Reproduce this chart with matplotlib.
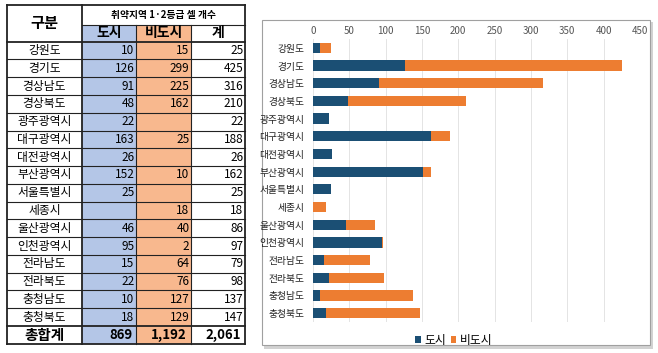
import matplotlib
matplotlib.use("Agg")
import matplotlib.pyplot as plt
from matplotlib import patches

plt.rcParams['font.family'] = ['Noto Sans CJK KR', 'DejaVu Sans']

regions = ['강원도', '경기도', '경상남도', '경상북도', '광주광역시', '대구광역시',
           '대전광역시', '부산광역시', '서울특별시', '세종시', '울산광역시',
           '인천광역시', '전라남도', '전라북도', '충청남도', '충청북도']
city = [10, 126, 91, 48, 22, 163, 26, 152, 25, None, 46, 95, 15, 22, 10, 18]
noncity = [15, 299, 225, 162, None, 25, None, 10, None, 18, 40, 2, 64, 76, 127, 129]
xticks = [0, 50, 100, 150, 200, 250, 300, 350, 400, 450]

city_v = [v or 0 for v in city]
non_v = [v or 0 for v in noncity]
totals = [a + b for a, b in zip(city_v, non_v)]

W, H = 658, 353
fig = plt.figure(figsize=(W / 100, H / 100), dpi=100)

# ---- table (drawn in pixel coordinates) ----
tb = fig.add_axes([0, 0, 1, 1])
tb.set_xlim(0, W)
tb.set_ylim(H, 0)
tb.axis('off')

cols = [7, 82, 136, 191, 245]
top, h1, h2 = 5, 25, 41.7
row_h = 17.77
n = len(regions)
data_bot = h2 + n * row_h
bot = 344
blue_c = '#b4c6e7'
orng_c = '#f8b88e'
lc = '#222222'

tb.add_patch(patches.Rectangle((cols[1], h1), cols[2] - cols[1], bot - h1, fc=blue_c, ec='none'))
tb.add_patch(patches.Rectangle((cols[2], h1), cols[3] - cols[2], bot - h1, fc=orng_c, ec='none'))

# grid lines
tb.plot([cols[1], cols[4]], [h1, h1], color=lc, lw=0.8)
for i in range(n + 1):
    y = h2 + i * row_h
    tb.plot([cols[0], cols[4]], [y, y], color=lc, lw=0.8 if 0 < i < n else 1.3)
for j, x in enumerate(cols):
    y0 = top if j in (0, 1, 4) else h1
    tb.plot([x, x], [y0, bot], color=lc, lw=1.3 if j in (0, 1, 4) else 0.8)
tb.plot([cols[0], cols[4]], [top, top], color=lc, lw=1.3)
tb.plot([cols[0], cols[4]], [bot, bot], color=lc, lw=1.3)

tb.text((cols[0] + cols[1]) / 2, (top + h2) / 2, '구분', ha='center', va='center',
        fontsize=11, fontweight='bold')
tb.text((cols[1] + cols[4]) / 2, (top + h1) / 2, '취약지역 1·2등급 셀 개수', ha='center',
        va='center', fontsize=7, fontweight='bold')
for j, lab in enumerate(['도시', '비도시', '계']):
    tb.text((cols[j + 1] + cols[j + 2]) / 2, (h1 + h2) / 2, lab, ha='center',
            va='center', fontsize=10, fontweight='bold')

for i, r in enumerate(regions):
    yc = h2 + (i + 0.5) * row_h
    tb.text((cols[0] + cols[1]) / 2, yc, r, ha='center', va='center', fontsize=8.5)
    for j, v in enumerate([city[i], noncity[i], totals[i]]):
        if v:
            tb.text(cols[j + 2] - 1.5, yc, str(v), ha='right', va='center', fontsize=8.5)

yt = (data_bot + bot) / 2
tb.text((cols[0] + cols[1]) / 2, yt, '총합계', ha='center', va='center',
        fontsize=10.5, fontweight='bold')
for j, v in enumerate([sum(city_v), sum(non_v), sum(totals)]):
    tb.text(cols[j + 2] - 4, yt, f'{v:,}', ha='right', va='center',
            fontsize=9.5, fontweight='bold')

# ---- chart panel with shadow ----
tb.add_patch(patches.Rectangle((264, 22), 389, 327, fc='#d2d2d2', ec='none', zorder=0))
tb.add_patch(patches.Rectangle((262, 20), 388, 325, fc='white', ec='#a0a0a0', lw=0.8, zorder=1))

ax = fig.add_axes([313 / W, 1 - 322 / H, (640 - 313) / W, (322 - 39) / H])
ax.patch.set_alpha(0)
ypos = list(range(n))
ax.barh(ypos, city_v, height=0.58, color='#1b4f74', label='도시', zorder=3)
ax.barh(ypos, non_v, left=city_v, height=0.58, color='#ed7d31', label='비도시', zorder=3)
ax.set_ylim(n - 0.5, -0.5)
ax.set_xlim(0, 450)
ax.set_yticks(ypos)
ax.set_yticklabels(regions, fontsize=7, color='#222222')
ax.set_xticks(xticks)
ax.xaxis.tick_top()
ax.tick_params(axis='x', labelsize=7, labelcolor='#555555', length=0, pad=2)
ax.tick_params(axis='y', length=0, pad=6)
ax.grid(axis='x', color='#e4e4e4', lw=0.7, zorder=0)
for s in ax.spines.values():
    s.set_visible(False)

leg = ax.legend(loc='upper center', bbox_to_anchor=(0.43, -0.005), ncol=2, frameon=False,
                fontsize=8.5, handlelength=0.5, handleheight=0.5, handletextpad=0.3,
                columnspacing=0.4)

fig.savefig('out.png', dpi=100)
